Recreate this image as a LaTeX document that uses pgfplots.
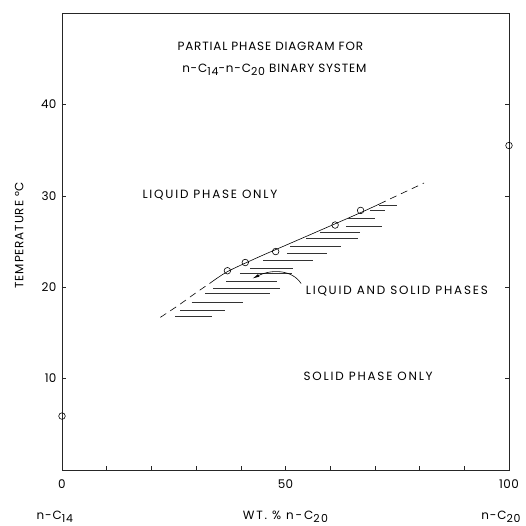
\documentclass[border=0pt]{standalone}
\usepackage{fontspec}
\setmainfont{Poppins}[LetterSpace=3]
\newfontfamily\widefont{Poppins}[LetterSpace=15]
\newfontfamily\midfont{Poppins}[LetterSpace=7]
\usepackage{pgfplots}
\pgfplotsset{compat=1.18}
\usetikzlibrary{arrows.meta}
\newcommand{\fs}{\fontsize{12}{14}\selectfont}
\newcommand{\sub}[1]{\raisebox{-0.5ex}{\fontsize{11}{12}\selectfont #1}}
\begin{document}
\begin{tikzpicture}
\path (-62bp,-51bp) rectangle (464bp,470bp);
\begin{axis}[
  at={(0,0)}, anchor=south west,
  scale only axis, width=447bp, height=457bp,
  xmin=0, xmax=100, ymin=0, ymax=50,
  axis line style={line width=0.6pt, black!85},
  xtick={0,10,...,100},
  xticklabels={0,,,,,50,,,,,100},
  ytick={10,20,30,40},
  xtick pos=bottom, ytick pos=both,
  tick align=inside, major tick length=4bp,
  tick style={line width=0.6pt, black!85},
  tick label style={font=\fs},
  /pgf/number format/assume math mode=true,
  xticklabel style={yshift=-6bp},
  yticklabel style={xshift=-2bp},
  clip=false,
  unbounded coords=jump,
]
% phase boundary curve
\addplot[black, line width=0.6pt, dash pattern=on 7pt off 5pt, smooth] coordinates {(22,16.7) (26,18.0) (30,19.4) (33,20.4)};
\addplot[black, line width=0.6pt, smooth] coordinates {(33,20.4) (37,21.7) (44,23.3) (52,25.0) (60,26.7) (67,28.2) (71,29.1)};
\addplot[black, line width=0.6pt, dash pattern=on 7pt off 5pt, smooth] coordinates {(71,29.1) (74,29.8) (77.5,30.6) (81,31.4)};
% hatching
\addplot[black!80, line width=0.6pt] coordinates {
 (25.3,16.8) (33.5,16.8) (0,inf)
 (26.4,17.5) (36.5,17.5) (0,inf)
 (29.0,18.4) (40.5,18.4) (0,inf)
 (32.0,19.3) (46.5,19.3) (0,inf)
 (33.8,19.9) (48.8,19.9) (0,inf)
 (36.7,20.6) (48.0,20.6) (0,inf)
 (39.8,21.5) (51.4,21.5) (0,inf)
 (42.1,22.1) (51.7,22.1) (0,inf)
 (45.0,22.9) (56.2,22.9) (0,inf)
 (50.3,23.7) (59.2,23.7) (0,inf)
 (51.0,24.5) (62.4,24.5) (0,inf)
 (54.6,25.4) (66.2,25.4) (0,inf)
 (57.7,26.0) (66.7,26.0) (0,inf)
 (63.5,26.7) (71.5,26.7) (0,inf)
 (64.0,27.5) (70.0,27.5) (0,inf)
 (68.9,28.4) (72.3,28.4) (0,inf)
 (71.0,29.0) (75.0,29.0)
};
% data points
\addplot[only marks, mark=o, mark size=3.3pt, mark options={line width=0.6pt, black}] coordinates {
 (0,5.9) (37.0,21.8) (41.0,22.7) (47.8,23.9) (61.1,26.8) (66.8,28.4) (100,35.5)};
% arrow
\draw[black, line width=0.6pt, -{Latex[length=7pt,width=3pt]}] (axis cs:53.5,20.4) .. controls (axis cs:51.5,21.9) and (axis cs:47,22.0) .. (axis cs:42.6,20.95);
% texts
\node[font=\fs\midfont] at (axis cs:46.6,46.3) {PARTIAL PHASE DIAGRAM FOR};
\node[font=\fs\midfont] at (axis cs:47.5,43.8) {n-C\sub{14}-n-C\sub{20} BINARY SYSTEM};
\node[font=\fs\widefont] at (axis cs:33.1,30.1) {LIQUID PHASE ONLY};
\node[font=\fs\widefont] at (axis cs:74.9,19.6) {LIQUID AND SOLID PHASES};
\node[font=\fs\widefont] at (axis cs:68.5,10.2) {SOLID PHASE ONLY};
\node[font=\fs\midfont, rotate=90] at (axis cs:-9.6,25.7) {TEMPERATURE °C};
\node[font=\fs\midfont] at (axis cs:-1.6,-5.1) {n-C\sub{14}};
\node[font=\fs\widefont] at (axis cs:50,-5.1) {WT. \% n-C\sub{20}};
\node[font=\fs\midfont] at (axis cs:98.2,-5.1) {n-C\sub{20}};
\end{axis}
\end{tikzpicture}
\end{document}
